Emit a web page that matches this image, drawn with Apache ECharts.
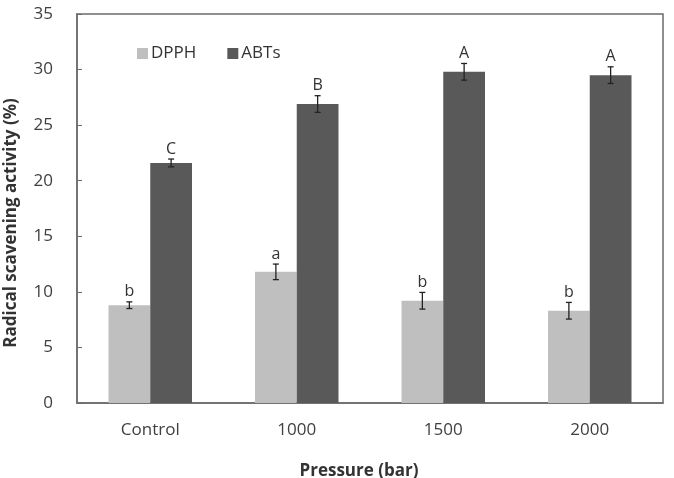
<!DOCTYPE html>
<html>
<head>
<meta charset="utf-8">
<script src="https://cdn.jsdelivr.net/npm/echarts@6/dist/echarts.min.js"></script>
<style>
  html, body { margin: 0; padding: 0; background: #fff; }
  #chart { width: 674px; height: 478px; }
</style>
</head>
<body>
<div id="chart"></div>
<script>
// data
const categories = ['Control', '1000', '1500', '2000']
const dpph = [8.8, 11.8, 9.2, 8.3]
const dpphErr = [0.3, 0.7, 0.75, 0.75]
const dpphLetters = ['b', 'a', 'b', 'b']
const abts = [21.6, 26.9, 29.8, 29.5]
const abtsErr = [0.35, 0.75, 0.75, 0.75]
const abtsLetters = ['C', 'B', 'A', 'A']

const GAP = 0.43
const font = 'Open Sans'

function errorSeries(name, values, errs, letters, side) {
  return {
    name: name + ' err',
    type: 'custom',
    z: 5,
    encode: { x: 0, y: 1 },
    data: values.map((v, i) => [i, v, errs[i]]),
    renderItem: (params, api) => {
      const i = api.value(0)
      const val = api.value(1)
      const err = api.value(2)
      const band = api.size([1, 0])[0]
      const bw = band * (1 - GAP) / 2
      const cx = api.coord([i, val])[0] + side * bw / 2
      const yTop = api.coord([i, val + err])[1]
      const yBot = api.coord([i, val - err])[1]
      const style = { stroke: '#222', lineWidth: 1.3 }
      return {
        type: 'group',
        children: [
          { type: 'line', shape: { x1: cx, y1: yTop, x2: cx, y2: yBot }, style },
          { type: 'line', shape: { x1: cx - 3, y1: yTop, x2: cx + 3, y2: yTop }, style },
          { type: 'line', shape: { x1: cx - 3, y1: yBot, x2: cx + 3, y2: yBot }, style },
          {
            type: 'text',
            style: {
              text: letters[params.dataIndex],
              x: cx, y: yTop - 2,
              align: 'center', verticalAlign: 'bottom',
              font: '16px "' + font + '"', fill: '#333'
            }
          }
        ]
      }
    }
  }
}

const myChart = echarts.init(document.getElementById('chart'))
const option = {
  animation: false,
  grid: {
    left: 77, right: 11, top: 14, bottom: 75,
    show: true, borderColor: '#6b6b6b', borderWidth: 1.5
  },
  legend: {
    data: ['DPPH', 'ABTs'],
    left: 132, top: 40,
    icon: 'rect', itemWidth: 11, itemHeight: 11, itemGap: 31,
    textStyle: { fontFamily: font, fontSize: 17, color: '#333', padding: [0, 0, 0, -2] }
  },
  graphic: [
    {
      type: 'text', x: 11, y: 223,
      rotation: Math.PI / 2,
      style: {
        text: 'Radical scavening activity (%)',
        align: 'center', verticalAlign: 'middle',
        font: 'bold 17px "' + font + '"', fill: '#333'
      }
    },
    {
      type: 'text', x: 359, y: 463,
      style: {
        text: 'Pressure (bar)',
        align: 'center', verticalAlign: 'top',
        font: 'bold 17px "' + font + '"', fill: '#333'
      }
    }
  ],
  xAxis: {
    type: 'category',
    data: categories,
    axisLine: { lineStyle: { color: '#6b6b6b', width: 1.5 } },
    axisTick: { show: false },
    axisLabel: { fontFamily: font, fontSize: 17, color: '#404040', margin: 19 }
  },
  yAxis: {
    type: 'value',
    min: 0, max: 35, interval: 5,
    axisLine: { show: true, lineStyle: { color: '#6b6b6b', width: 1.5 } },
    axisTick: { show: true, inside: true, length: 5, lineStyle: { color: '#6b6b6b' } },
    splitLine: { show: false },
    axisLabel: { fontFamily: font, fontSize: 17, color: '#404040', margin: 24 }
  },
  series: [
    {
      name: 'DPPH', type: 'bar', data: dpph,
      barGap: '0%', barCategoryGap: (GAP * 100) + '%',
      itemStyle: { color: '#bfbfbf' }
    },
    {
      name: 'ABTs', type: 'bar', data: abts,
      barGap: '0%', barCategoryGap: (GAP * 100) + '%',
      itemStyle: { color: '#595959' }
    },
    errorSeries('DPPH', dpph, dpphErr, dpphLetters, -1),
    errorSeries('ABTs', abts, abtsErr, abtsLetters, 1)
  ]
}
myChart.setOption(option)
</script>
</body>
</html>
